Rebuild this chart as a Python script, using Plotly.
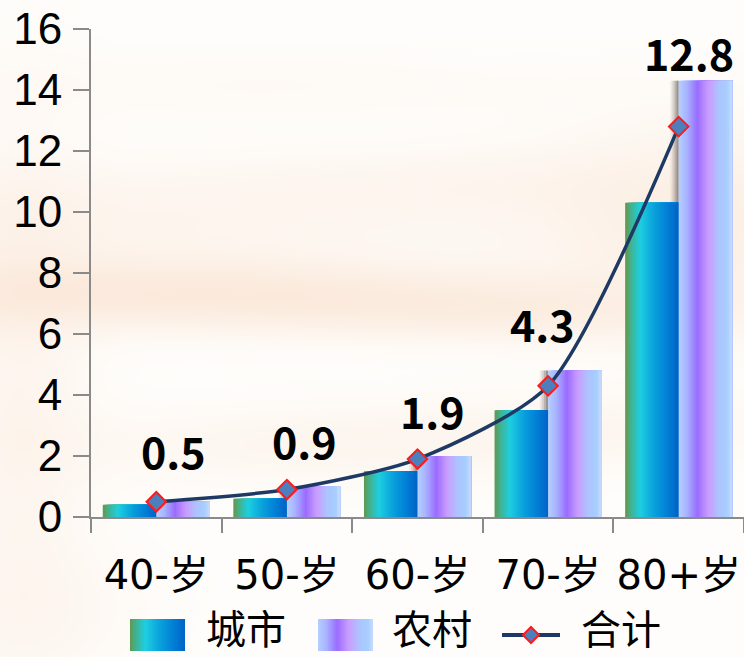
import base64
import struct
import zlib

import numpy as np
import plotly.graph_objects as go

# ---- data -------------------------------------------------------------
categories = ["40-岁", "50-岁", "60-岁", "70-岁", "80+岁"]
city = [0.4, 0.6, 1.5, 3.5, 10.3]          # 城市
rural = [0.5, 1.0, 2.0, 4.8, 14.3]         # 农村
total = [0.5, 0.9, 1.9, 4.3, 12.8]         # 合计
total_labels = ["0.5", "0.9", "1.9", "4.3", "12.8"]

# label nudges (pixels) for the 合计 value annotations
label_dx = [17, 18, 15, -6, 10]
label_dy = [52, 50, 49, 63, 75]

# ---- geometry -----------------------------------------------------------
W, H = 744, 657
ML, MR, MT, MB = 91, 0, 29, 140
PW, PH = W - ML - MR, H - MT - MB

BAR_W = 0.41      # width of each bar in category units
N_STRIPS = 30     # vertical strips used to shade each bar

CITY_STOPS = [(0.0, "#65964c"), (0.10, "#44b08a"), (0.28, "#1ecfe0"),
              (0.55, "#09a0dc"), (0.78, "#0280d6"), (1.0, "#0063c8")]
RURAL_STOPS = [(0.0, "#b4d0ff"), (0.15, "#a9b4ff"), (0.35, "#9a6cff"),
               (0.55, "#c99cff"), (0.75, "#adc4ff"), (0.9, "#a6ceff"),
               (1.0, "#cad9ff")]
LINE_COLOR = "#1e3a64"
MARKER_FILL = "#4e7fbd"
MARKER_EDGE = "#ff1a1a"
AXIS_COLOR = "#8a8a8a"
FONT = "Noto Sans CJK SC"
TICK_FONT = "DejaVu Sans, Noto Sans CJK SC"


def hex_rgb(h):
    h = h.lstrip("#")
    return tuple(int(h[i:i + 2], 16) for i in (0, 2, 4))


def grad(stops, t):
    for (t0, c0), (t1, c1) in zip(stops[:-1], stops[1:]):
        if t <= t1:
            f = 0 if t1 == t0 else (t - t0) / (t1 - t0)
            a, b = hex_rgb(c0), hex_rgb(c1)
            return "rgb(%d,%d,%d)" % tuple(round(a[k] + (b[k] - a[k]) * f) for k in range(3))
    return "rgb(%d,%d,%d)" % hex_rgb(stops[-1][1])


def px(x):
    return (x - ML) / PW


def py(y):
    return (H - MB - y) / PH


# ---- soft warm background texture --------------------------------------
def background_uri():
    yy, xx = np.mgrid[0:H, 0:W].astype(float)
    blobs = [
        (130, 290, 230, 28, 0.45), (320, 300, 200, 22, 0.30),
        (160, 215, 260, 38, 0.24), (700, 225, 120, 75, 0.40),
        (520, 312, 150, 22, 0.30), (330, 445, 210, 30, 0.22),
        (20, 390, 50, 200, 0.25), (260, 85, 220, 25, 0.12),
        (620, 425, 150, 25, 0.15), (40, 610, 90, 50, 0.14),
        (450, 180, 160, 25, 0.15),
    ]
    keep = np.ones((H, W))
    for cx, cy, sx, sy, s in blobs:
        a = s * np.exp(-0.5 * (((xx - cx) / sx) ** 2 + ((yy - cy) / sy) ** 2))
        keep *= 1 - a
    a = 1 - keep
    base = np.array([255, 254, 252], float)
    warm = np.array([249, 220, 198], float)
    img = base[None, None, :] * (1 - a[..., None]) + warm[None, None, :] * a[..., None]
    img = np.clip(img, 0, 255).astype(np.uint8)
    raw = b"".join(b"\x00" + img[r].tobytes() for r in range(H))

    def chunk(tag, data):
        return (struct.pack(">I", len(data)) + tag + data
                + struct.pack(">I", zlib.crc32(tag + data) & 0xFFFFFFFF))

    png = (b"\x89PNG\r\n\x1a\n"
           + chunk(b"IHDR", struct.pack(">IIBBBBB", W, H, 8, 2, 0, 0, 0))
           + chunk(b"IDAT", zlib.compress(raw, 9))
           + chunk(b"IEND", b""))
    return "data:image/png;base64," + base64.b64encode(png).decode()


fig = go.Figure()

# soft shadow on the left of the 农村 bars
shadow_alpha = [0.10, 0.18, 0.28, 0.40]
sw = 0.016
for i, al in enumerate(shadow_alpha):
    fig.add_trace(go.Bar(
        x=categories, y=rural, offset=-sw * (len(shadow_alpha) - i), width=sw * (len(shadow_alpha) - i),
        marker=dict(color="rgba(110,100,92,%.2f)" % al, line=dict(width=0)),
        showlegend=False, hoverinfo="skip"))

# 城市 and 农村 bars, each shaded left→right with nested strips
for name, vals, stops, base in (("城市", city, CITY_STOPS, -BAR_W),
                                ("农村", rural, RURAL_STOPS, 0.0)):
    for i in range(N_STRIPS):
        t = (i + 0.5) / N_STRIPS
        fig.add_trace(go.Bar(
            x=categories, y=vals, name=name,
            offset=base + BAR_W * i / N_STRIPS,
            width=BAR_W * (N_STRIPS - i) / N_STRIPS,
            marker=dict(color=grad(stops, t), line=dict(width=0)),
            showlegend=False, hoverinfo="skip" if i else "x+y+name"))

# 合计 line
fig.add_trace(go.Scatter(
    x=categories, y=total, name="合计", mode="lines+markers",
    line=dict(color=LINE_COLOR, width=3.5, shape="spline", smoothing=0.7),
    marker=dict(symbol="diamond", size=15, color=MARKER_FILL,
                line=dict(color=MARKER_EDGE, width=2)),
    showlegend=False))

annotations = []
for c, v, lab, dx, dy in zip(categories, total, total_labels, label_dx, label_dy):
    annotations.append(dict(
        x=c, y=v, text="<b>%s</b>" % lab, showarrow=False,
        xshift=dx, yshift=dy, font=dict(family=FONT, size=43, color="black")))

# ---- legend drawn in paper space ---------------------------------------
shapes = []
leg_y0, leg_y1, leg_yc = 619, 651, 635
for x0, stops in ((130, CITY_STOPS), (318, RURAL_STOPS)):
    sw_px = 55
    n = 28
    for i in range(n):
        shapes.append(dict(
            type="rect", xref="paper", yref="paper", layer="above",
            x0=px(x0 + sw_px * i / n), x1=px(x0 + sw_px),
            y0=py(leg_y1), y1=py(leg_y0),
            fillcolor=grad(stops, (i + 0.5) / n), line=dict(width=0)))
shapes.append(dict(type="line", xref="paper", yref="paper", layer="above",
                   x0=px(502), x1=px(560), y0=py(leg_yc), y1=py(leg_yc),
                   line=dict(color=LINE_COLOR, width=4)))
dcx, dcy, d = 531, leg_yc, 8
shapes.append(dict(
    type="path", xref="paper", yref="paper", layer="above",
    path="M %f,%f L %f,%f L %f,%f L %f,%f Z" % (
        px(dcx - d), py(dcy), px(dcx), py(dcy - d),
        px(dcx + d), py(dcy), px(dcx), py(dcy + d)),
    fillcolor=MARKER_FILL, line=dict(color=MARKER_EDGE, width=2)))
for xc, txt in ((246, "城市"), (432, "农村"), (621, "合计")):
    annotations.append(dict(
        xref="paper", yref="paper", x=px(xc), y=py(627), text=txt,
        showarrow=False, xanchor="center", yanchor="middle",
        font=dict(family=FONT, size=40, color="black")))

fig.update_layout(
    width=W, height=H,
    margin=dict(l=ML, r=MR, t=MT, b=MB, pad=0, autoexpand=False),
    paper_bgcolor="rgba(0,0,0,0)", plot_bgcolor="rgba(0,0,0,0)",
    barmode="overlay", showlegend=False,
    font=dict(family=FONT, color="black"),
    annotations=annotations, shapes=shapes,
    images=[dict(source=background_uri(), xref="paper", yref="paper",
                 x=px(0), y=py(0), sizex=px(W) - px(0), sizey=py(0) - py(H),
                 xanchor="left", yanchor="top", sizing="stretch", layer="below")],
)
fig.update_xaxes(
    type="category", range=[-0.5, 4.5], tickson="boundaries", automargin=False,
    tickangle=0,
    ticks="outside", ticklen=14, tickwidth=2, tickcolor=AXIS_COLOR,
    showline=True, linecolor=AXIS_COLOR, linewidth=2,
    showgrid=False, zeroline=False, ticklabelstandoff=22,
    tickfont=dict(family=TICK_FONT, size=40, color="black"))
fig.update_yaxes(
    range=[0, 16], dtick=2, tick0=0, ticklabeloverflow="allow", automargin=False,
    ticks="outside", ticklen=16, tickwidth=2, tickcolor=AXIS_COLOR,
    showline=True, linecolor=AXIS_COLOR, linewidth=2,
    showgrid=False, zeroline=False, ticklabelstandoff=2,
    tickfont=dict(family="Liberation Sans", size=44, color="black"))

fig.write_html("out.html")
